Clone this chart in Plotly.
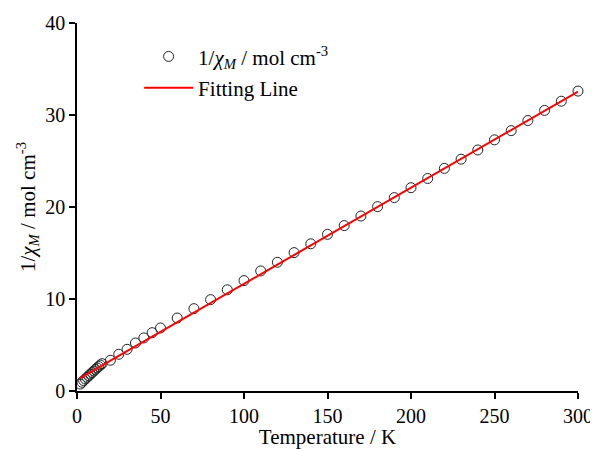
import plotly.graph_objects as go

# Measured data: temperature (K) and 1/chi_M (mol cm^-3)
temp = [2, 3, 4, 5, 6, 7, 8, 9, 10, 11, 12, 13, 14, 15, 20, 25, 30, 35, 40, 45,
        50, 60, 70, 80, 90, 100, 110, 120, 130, 140, 150, 160, 170, 180, 190,
        200, 210, 220, 230, 240, 250, 260, 270, 280, 290, 300]
inv_chi = [0.75, 0.95, 1.13, 1.30, 1.48, 1.65, 1.82, 2.00, 2.17, 2.34, 2.50, 2.66,
           2.82, 2.97, 3.34, 3.99, 4.53, 5.22, 5.77, 6.34,
           6.85, 7.93, 8.95, 9.93, 11.0, 12.0, 13.05, 13.99, 15.04, 16.0, 17.03,
           17.98, 19.02, 20.04, 21.02, 22.1, 23.1, 24.2, 25.2, 26.2, 27.3, 28.3,
           29.4, 30.5, 31.5, 32.6]

# Fitting line end points
fit_temp = [1.8, 300]
fit_inv_chi = [1.39, 32.55]

x_ticks = [0, 50, 100, 150, 200, 250, 300]
y_ticks = [0, 10, 20, 30, 40]

FONT = "Liberation Serif"
label = "1/<i>χ<sub>M</sub></i> / mol cm<sup>-3</sup>"

fig = go.Figure()
fig.add_trace(go.Scatter(
    x=temp, y=inv_chi, mode="markers", name=label, legendgroup="a",
    marker=dict(symbol="circle-open", size=10, color="#222222", line=dict(width=1)),
    cliponaxis=False,
))
fig.add_trace(go.Scatter(
    x=fit_temp, y=fit_inv_chi, mode="lines", name="Fitting Line", legendgroup="b",
    line=dict(color="#ff0000", width=2),
))

axis_common = dict(
    showline=True, linecolor="black", linewidth=1.5,
    ticks="outside", ticklen=6, tickwidth=1.5, tickcolor="black",
    showgrid=False, zeroline=False, mirror=False, automargin=False,
    tickfont=dict(family=FONT, size=20, color="black"),
)

# the page body adds an 8 px margin, so the figure is 8 px smaller than the window
fig.update_layout(
    width=590, height=441,
    margin=dict(l=69, r=20, t=15, b=58),
    paper_bgcolor="white", plot_bgcolor="white",
    font=dict(family=FONT, size=20, color="black"),
    xaxis=dict(range=[0, 300], tickvals=x_ticks,
               title=dict(text="Temperature / K", font=dict(family=FONT, size=21), standoff=0),
               **axis_common),
    yaxis=dict(range=[0, 40], tickvals=y_ticks,
               title=dict(text=label, font=dict(family=FONT, size=21), standoff=4),
               **axis_common),
    legend=dict(x=0.124, y=0.964, xanchor="left", yanchor="top",
                bgcolor="rgba(0,0,0,0)", font=dict(family=FONT, size=21),
                itemwidth=49, traceorder="grouped", tracegroupgap=1),
)

fig.write_html("out.html")
